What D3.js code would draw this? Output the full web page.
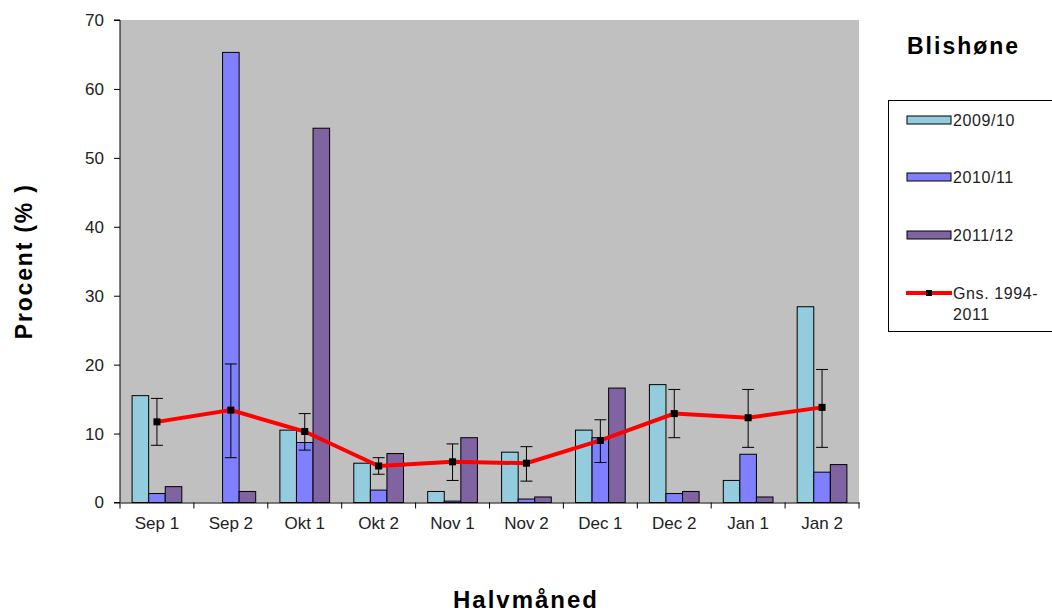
<!DOCTYPE html>
<html>
<head>
<meta charset="utf-8">
<script src="https://cdn.jsdelivr.net/npm/d3@7"></script>
<style>
  body { margin: 0; background: #ffffff; }
  svg { font-family: "Liberation Sans", Arial, sans-serif; }
</style>
</head>
<body>
<div id="chart"></div>
<script>
// data
var categories = ["Sep 1", "Sep 2", "Okt 1", "Okt 2", "Nov 1", "Nov 2", "Dec 1", "Dec 2", "Jan 1", "Jan 2"];
var seriesNames = ["2009/10", "2010/11", "2011/12"];
var s2009 = [15.5, 0, 10.5, 5.7, 1.6, 7.3, 10.5, 17.1, 3.2, 28.4];
var s2010 = [1.3, 65.3, 8.7, 1.8, 0.2, 0.5, 9.4, 1.3, 7.0, 4.4];
var s2011 = [2.3, 1.6, 54.3, 7.1, 9.4, 0.8, 16.6, 1.6, 0.8, 5.5];
var meanName = "Gns. 1994-2011";
var meanVals = [11.7, 13.4, 10.3, 5.3, 5.9, 5.7, 9.0, 12.9, 12.3, 13.8];
var errHigh = [15.1, 20.1, 12.9, 6.5, 8.5, 8.1, 12.0, 16.4, 16.4, 19.3];
var errLow = [8.3, 6.5, 7.6, 4.1, 3.2, 3.1, 5.8, 9.4, 8.0, 8.0];
var yTicks = [0, 10, 20, 30, 40, 50, 60, 70];
var colors = ["#93CDDD", "#8080FF", "#8064A2"];

var W = 1052, H = 613;
var plot = { left: 120, top: 20, right: 859, bottom: 502.5 };

var svg = d3.select("#chart").append("svg")
    .attr("width", W)
    .attr("height", H);

var x = d3.scaleBand()
    .domain(categories)
    .range([plot.left, plot.right])
    .paddingInner(0)
    .paddingOuter(0);

var xInner = d3.scaleBand()
    .domain(seriesNames)
    .range([0, x.bandwidth()])
    .paddingInner(0)
    .paddingOuter(0.73);

var y = d3.scaleLinear()
    .domain([0, 70])
    .range([plot.bottom, plot.top]);

// plot background
svg.append("rect")
    .attr("x", plot.left)
    .attr("y", plot.top)
    .attr("width", plot.right - plot.left)
    .attr("height", plot.bottom - plot.top)
    .style("fill", "#C0C0C0");

// bars
var allSeries = [s2009, s2010, s2011];
allSeries.forEach(function (vals, si) {
    var rows = vals.map(function (v, i) { return { v: v, i: i }; })
        .filter(function (d) { return d.v > 0; });
    svg.append("g").selectAll("rect")
        .data(rows)
        .enter()
        .append("rect")
        .attr("x", function (d) { return x(categories[d.i]) + xInner(seriesNames[si]); })
        .attr("y", function (d) { return y(d.v); })
        .attr("width", xInner.bandwidth())
        .attr("height", function (d) { return y(0) - y(d.v); })
        .style("fill", colors[si])
        .style("stroke", "#000")
        .style("stroke-width", 1);
});

// axes
var yAxis = d3.axisLeft(y).tickValues(yTicks).tickSize(6).tickPadding(10);
var gy = svg.append("g")
    .attr("transform", "translate(" + plot.left + ",0)")
    .call(yAxis);
gy.selectAll("text").style("font-size", "17px").style("fill", "#222").attr("font-family", "Liberation Sans, Arial, sans-serif");
gy.selectAll("line,path").style("stroke", "#000");
gy.select(".domain").attr("d", "M-6," + plot.top + "H0V" + plot.bottom + "H-6");

var xAxis = d3.axisBottom(x).tickSize(0).tickPadding(14);
var gx = svg.append("g")
    .attr("transform", "translate(0," + plot.bottom + ")")
    .call(xAxis);
gx.select(".domain").style("stroke", "#000");
gx.selectAll("text").style("font-size", "17px").style("fill", "#222").attr("font-family", "Liberation Sans, Arial, sans-serif");
gx.selectAll(".tick line").remove();
var bounds = categories.map(function (c) { return x(c); }).concat([plot.right]);
gx.selectAll(".bound")
    .data(bounds)
    .enter()
    .append("line")
    .attr("x1", function (d) { return d; })
    .attr("x2", function (d) { return d; })
    .attr("y1", 0)
    .attr("y2", 6)
    .style("stroke", "#000");

// error bars
var cx = function (i) { return x(categories[i]) + x.bandwidth() / 2; };
var eg = svg.append("g");
meanVals.forEach(function (m, i) {
    var px = cx(i);
    eg.append("line").attr("x1", px).attr("x2", px)
        .attr("y1", y(errLow[i])).attr("y2", y(errHigh[i]))
        .style("stroke", "#000").style("stroke-width", 1);
    [errLow[i], errHigh[i]].forEach(function (v) {
        eg.append("line").attr("x1", px - 6).attr("x2", px + 6)
            .attr("y1", y(v)).attr("y2", y(v))
            .style("stroke", "#000").style("stroke-width", 1);
    });
});

// mean line
var line = d3.line()
    .x(function (d, i) { return cx(i); })
    .y(function (d) { return y(d); });
svg.append("path")
    .datum(meanVals)
    .attr("d", line)
    .style("fill", "none")
    .style("stroke", "#FF0000")
    .style("stroke-width", 4);
svg.append("g").selectAll("rect")
    .data(meanVals)
    .enter()
    .append("rect")
    .attr("x", function (d, i) { return cx(i) - 3.5; })
    .attr("y", function (d) { return y(d) - 3.5; })
    .attr("width", 7)
    .attr("height", 7)
    .style("fill", "#000");

// titles
svg.append("text")
    .attr("x", 907)
    .attr("y", 54)
    .style("font-size", "23px")
    .style("font-weight", "bold")
    .style("letter-spacing", "2px")
    .text("Blishøne");

svg.append("text")
    .attr("transform", "translate(32," + ((plot.top + plot.bottom) / 2) + ") rotate(-90)")
    .attr("text-anchor", "middle")
    .style("font-size", "23px")
    .style("font-weight", "bold")
    .style("letter-spacing", "1.8px")
    .text("Procent (% )");

svg.append("text")
    .attr("x", 526)
    .attr("y", 608)
    .attr("text-anchor", "middle")
    .style("font-size", "24px")
    .style("font-weight", "bold")
    .style("letter-spacing", "2px")
    .text("Halvmåned");

// legend
var lg = svg.append("g");
lg.append("rect")
    .attr("x", 888.5)
    .attr("y", 100.5)
    .attr("width", 170)
    .attr("height", 231)
    .style("fill", "#fff")
    .style("stroke", "#000");
var rowY = [120, 177, 235];
seriesNames.forEach(function (n, i) {
    lg.append("rect")
        .attr("x", 907)
        .attr("y", rowY[i] - 4)
        .attr("width", 44)
        .attr("height", 8)
        .style("fill", colors[i])
        .style("stroke", "#000");
    lg.append("text")
        .attr("x", 953)
        .attr("y", rowY[i] + 6)
        .style("font-size", "16px")
        .style("letter-spacing", "0.6px")
        .style("fill", "#222")
        .text(n);
});
lg.append("line")
    .attr("x1", 906).attr("x2", 952)
    .attr("y1", 293).attr("y2", 293)
    .style("stroke", "#FF0000")
    .style("stroke-width", 4);
lg.append("rect")
    .attr("x", 926).attr("y", 290).attr("width", 6).attr("height", 6)
    .style("fill", "#000");
lg.append("text")
    .attr("x", 953).attr("y", 299)
    .style("font-size", "16px")
    .style("letter-spacing", "0.6px")
    .style("fill", "#222")
    .text("Gns. 1994-");
lg.append("text")
    .attr("x", 953).attr("y", 320)
    .style("font-size", "16px")
    .style("letter-spacing", "0.6px")
    .style("fill", "#222")
    .text("2011");
</script>
</body>
</html>
